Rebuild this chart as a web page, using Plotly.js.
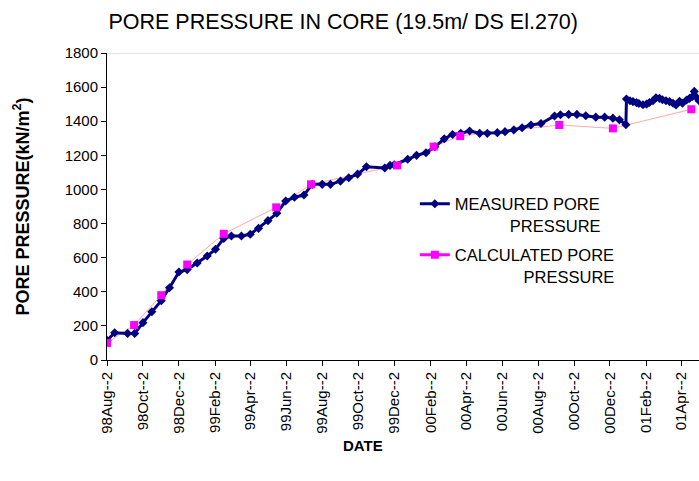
<!DOCTYPE html>
<html>
<head>
<meta charset="utf-8">
<script src="https://cdn.plot.ly/plotly-3.0.1.min.js"></script>
<style>html,body{margin:0;padding:0;background:#fff;}#chart{width:699px;height:481px;}</style>
</head>
<body>
<div id="chart"></div>
<script>
const measuredDates = ["1998-08-02","1998-08-15","1998-09-06","1998-09-18","1998-10-02","1998-10-17","1998-11-02","1998-11-16","1998-12-02","1998-12-16","1999-01-02","1999-01-19","1999-02-02","1999-02-16","1999-03-01","1999-03-18","1999-04-02","1999-04-16","1999-05-02","1999-05-17","1999-06-01","1999-06-16","1999-07-02","1999-07-16","1999-08-02","1999-08-16","1999-09-02","1999-09-16","1999-10-01","1999-10-16","1999-11-16","1999-11-25","1999-12-02","1999-12-25","2000-01-09","2000-01-25","2000-02-09","2000-02-25","2000-03-10","2000-03-24","2000-04-08","2000-04-25","2000-05-08","2000-05-25","2000-06-07","2000-06-22","2000-07-06","2000-07-21","2000-08-07","2000-08-30","2000-09-09","2000-09-23","2000-10-07","2000-10-22","2000-11-08","2000-11-23","2000-12-07","2000-12-18","2000-12-29","2000-12-30","2001-01-05","2001-01-10","2001-01-16","2001-01-20","2001-01-27","2001-02-02","2001-02-07","2001-02-13","2001-02-18","2001-02-24","2001-03-01","2001-03-07","2001-03-13","2001-03-19","2001-03-24","2001-03-30","2001-04-04","2001-04-11","2001-04-16","2001-04-21","2001-04-24","2001-04-28","2001-05-02"];
const measuredValues = [115,160,156,156,219,283,348,424,516,530,569,610,649,713,727,727,737,772,817,860,932,954,967,1030,1030,1030,1049,1069,1090,1133,1126,1141,1145,1177,1200,1215,1250,1297,1322,1329,1343,1329,1329,1333,1339,1349,1362,1378,1387,1431,1438,1440,1440,1432,1424,1424,1418,1408,1380,1530,1520,1515,1509,1504,1497,1500,1510,1520,1538,1534,1526,1520,1515,1505,1495,1517,1505,1524,1534,1545,1575,1540,1520];

const calculatedDates = ["1998-08-02","1998-09-17","1998-11-02","1998-12-16","1999-02-16","1999-05-16","1999-07-14","1999-12-07","2000-02-07","2000-03-23","2000-09-07","2000-12-07","2001-04-19"];
const calculatedValues = [100,205,380,560,740,895,1030,1141,1251,1313,1378,1358,1470];

const tickDates = ["1998-08-02","1998-10-02","1998-12-02","1999-02-02","1999-04-02","1999-06-02","1999-08-02","1999-10-02","1999-12-02","2000-02-02","2000-04-02","2000-06-02","2000-08-02","2000-10-02","2000-12-02","2001-02-02","2001-04-02"];
const tickLabels = ["98Aug--2","98Oct--2","98Dec--2","99Feb--2","99Apr--2","99Jun--2","99Aug--2","99Oct--2","99Dec--2","00Feb--2","00Apr--2","00Jun--2","00Aug--2","00Oct--2","00Dec--2","01Feb--2","01Apr--2"];

const seriesNames = ["MEASURED PORE<br>\u00a0\u00a0\u00a0\u00a0\u00a0\u00a0\u00a0\u00a0\u00a0\u00a0\u00a0\u00a0PRESSURE", "CALCULATED PORE<br>\u00a0\u00a0\u00a0\u00a0\u00a0\u00a0\u00a0\u00a0\u00a0\u00a0\u00a0\u00a0\u00a0\u00a0\u00a0PRESSURE"];

const FONT = "Liberation Sans, Arial, sans-serif";

const traces = [
  {x: calculatedDates, y: calculatedValues, mode: "lines", type: "scatter",
   line: {color: "#ffa8a8", width: 1}, showlegend: false, hoverinfo: "skip"},
  {x: measuredDates, y: measuredValues, mode: "lines+markers", type: "scatter",
   name: seriesNames[0], legendgroup: "a",
   line: {color: "#000080", width: 3},
   marker: {symbol: "diamond", size: 7, color: "#000080"}},
  {x: calculatedDates, y: calculatedValues, mode: "markers", type: "scatter",
   marker: {symbol: "square", size: 8, color: "#ff00ff"}, showlegend: false},
  {x: [null], y: [null], mode: "lines+markers", type: "scatter",
   name: seriesNames[1], legendgroup: "b",
   line: {color: "#ff00ff", width: 3},
   marker: {symbol: "square", size: 8, color: "#ff00ff"}}
];

const layout = {
  width: 699, height: 481,
  margin: {l: 107, r: 0, t: 53, b: 121},
  paper_bgcolor: "#fff", plot_bgcolor: "#fff",
  font: {family: FONT, color: "#000", size: 15},
  title: {text: "PORE PRESSURE IN CORE (19.5m/ DS El.270)", font: {size: 21.5, family: FONT},
          x: 0.491, xref: "container", xanchor: "center", y: 0.956, yref: "container", yanchor: "middle"},
  xaxis: {type: "date", range: ["1998-08-02", "2001-05-02"],
          tickmode: "array", tickvals: tickDates, ticktext: tickLabels, tickangle: -90,
          ticks: "outside", ticklen: 5, tickcolor: "#000", tickfont: {size: 15},
          showline: true, linecolor: "#000", linewidth: 1, showgrid: false, zeroline: false},
  yaxis: {range: [0, 1800], tickvals: [0,200,400,600,800,1000,1200,1400,1600,1800],
          ticks: "outside", ticklen: 5, tickcolor: "#000", tickfont: {size: 15},
          showline: true, linecolor: "#000", linewidth: 1, showgrid: false, zeroline: false,
          title: {text: "PORE PRESSURE(kN/m<sup>2</sup>)", font: {size: 18, family: FONT, weight: "bold"}, standoff: 30}},
  shapes: [{type: "line", xref: "paper", yref: "y", x0: 0, x1: 1, y0: 1800, y1: 1800,
            line: {color: "#c8c8c8", width: 1}}],
  annotations: [{text: "<b>DATE</b>", xref: "paper", yref: "paper", x: 0.432, y: -0.277,
                 xanchor: "center", yanchor: "middle", showarrow: false, font: {size: 15, family: FONT}}],
  legend: {x: 0.52, y: 0.565, xanchor: "left", yanchor: "top", bgcolor: "rgba(0,0,0,0)",
           font: {size: 16.5, family: FONT}, valign: "top", traceorder: "grouped", tracegroupgap: 5,
           itemwidth: 30}
};

Plotly.newPlot("chart", traces, layout, {displayModeBar: false, staticPlot: true});
</script>
</body>
</html>
